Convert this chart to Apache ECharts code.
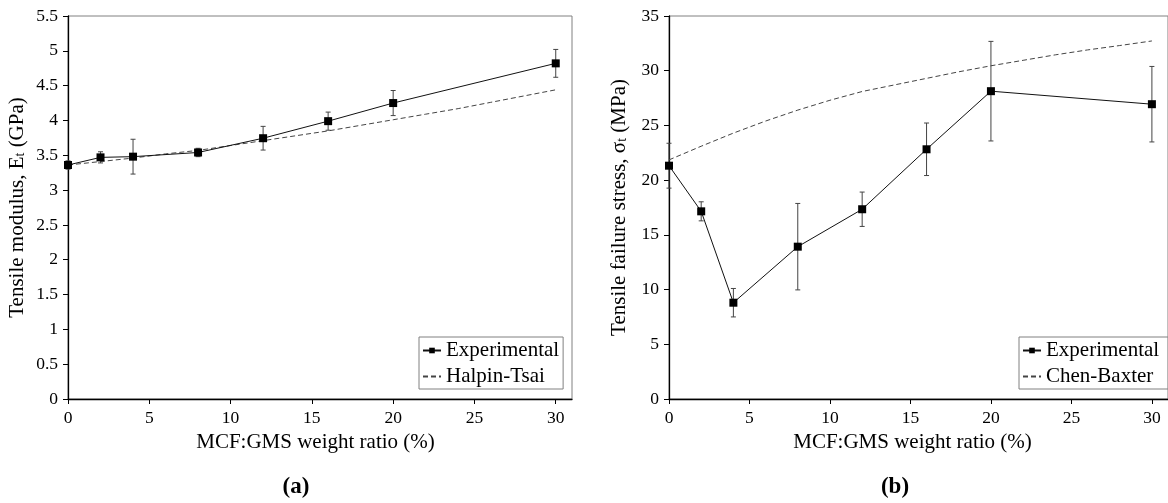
<!DOCTYPE html>
<html>
<head>
<meta charset="utf-8">
<script src="https://cdn.jsdelivr.net/npm/echarts@6/dist/echarts.min.js"></script>
<style>html,body{margin:0;padding:0;background:#fff}#c{width:1168px;height:503px}</style>
</head>
<body>
<div id="c"></div>
<script>
// ---- data ----
const xVals = [0, 2, 4, 8, 12, 16, 20, 30];
const modulus = [3.36, 3.47, 3.48, 3.54, 3.745, 3.99, 4.25, 4.82];
const modulusErr = [0.06, 0.08, 0.25, 0.06, 0.17, 0.13, 0.18, 0.20];
const htX = [0, 2, 4, 6, 8, 10, 12, 14, 16, 18, 20, 22, 24, 26, 28, 30];
const halpinTsai = [3.36, 3.41, 3.46, 3.52, 3.57, 3.64, 3.71, 3.78, 3.85, 3.93, 4.01, 4.09, 4.17, 4.26, 4.35, 4.44];
const strength = [21.32, 17.15, 8.8, 13.92, 17.34, 22.82, 28.13, 26.94];
const strengthErr = [2.05, 0.87, 1.3, 3.95, 1.57, 2.4, 4.55, 3.45];
const cbX = [0, 2, 4, 6, 8, 10, 12, 14, 16, 18, 20, 22, 24, 26, 28, 30];
const chenBaxter = [21.85, 23.1, 24.3, 25.4, 26.4, 27.3, 28.1, 28.7, 29.3, 29.9, 30.45, 30.95, 31.45, 31.9, 32.3, 32.72];
const xTicks = [0, 5, 10, 15, 20, 25, 30];

const FONT = '"Liberation Serif", "Times New Roman", serif';
const pair = (xs, ys) => xs.map((x, i) => [x, ys[i]]);
const errData = (xs, ys, es) => xs.map((x, i) => [x, ys[i] - es[i], ys[i] + es[i]]);

function errRender(params, api) {
  const x = api.value(0), lo = api.value(1), hi = api.value(2);
  const p1 = api.coord([x, hi]), p2 = api.coord([x, lo]);
  const c = 2.5;
  const st = { stroke: '#444', lineWidth: 1 };
  return { type: 'group', children: [
    { type: 'line', shape: { x1: p1[0], y1: p1[1], x2: p2[0], y2: p2[1] }, style: st },
    { type: 'line', shape: { x1: p1[0] - c, y1: p1[1], x2: p1[0] + c, y2: p1[1] }, style: st },
    { type: 'line', shape: { x1: p2[0] - c, y1: p2[1], x2: p2[0] + c, y2: p2[1] }, style: st }
  ]};
}

const axisLineStyle = { lineStyle: { color: '#000', width: 1.3 } };
function makeX(idx, shift) {
  return {
    type: 'value', gridIndex: idx, min: 0, max: 31,
    axisLine: axisLineStyle,
    axisTick: { show: true, length: 5, customValues: xTicks, lineStyle: { color: '#000' } },
    axisLabel: { customValues: xTicks, fontFamily: FONT, fontSize: 17.5, color: '#000', margin: 10 },
    splitLine: { show: false },
    name: 'MCF:GMS weight ratio (%)', nameLocation: 'middle', nameGap: 29,
    nameTextStyle: { fontFamily: FONT, fontSize: 21, color: '#000', padding: [0, shift, 0, 0] }
  };
}
const richName = {
  n: { fontFamily: FONT, fontSize: 21, color: '#000', padding: [0, 0, 5, 0] },
  sub: { fontFamily: FONT, fontSize: 14, color: '#000' }
};
function makeY(idx, max, interval, name, gap) {
  return {
    type: 'value', gridIndex: idx, min: 0, max: max, interval: interval,
    axisLine: { show: true, ...axisLineStyle },
    axisTick: { show: true, length: 5, lineStyle: { color: '#000' } },
    axisLabel: { fontFamily: FONT, fontSize: 17.5, color: '#000', margin: 10 },
    splitLine: { show: false },
    name: name, nameLocation: 'middle', nameGap: gap, nameRotate: 90,
    nameTextStyle: { rich: richName }
  };
}
function makeLegend(left, names) {
  return {
    left: left, top: 337, orient: 'vertical', itemWidth: 18, itemHeight: 7, itemGap: 5,
    padding: [3, 4, 2, 3], borderColor: '#808080', borderWidth: 1,
    textStyle: { fontFamily: FONT, fontSize: 21, color: '#000' },
    data: [names[0], { name: names[1], itemStyle: { opacity: 0 } }]
  };
}

const option = {
  backgroundColor: '#fff',
  animation: false,
  grid: [
    { left: 68, top: 16, width: 504, height: 383, show: true, borderColor: '#808080', borderWidth: 1 },
    { left: 669, top: 16, width: 503, height: 383, show: true, borderColor: '#808080', borderWidth: 1 }
  ],
  xAxis: [makeX(0, 9), makeX(1, 12)],
  yAxis: [
    makeY(0, 5.5, 0.5, '{n|Tensile modulus, E}{sub|t}{n| (GPa)}', 35),
    makeY(1, 35, 5, '{n|Tensile failure stress, σ}{sub|t}{n| (MPa)}', 34)
  ],
  legend: [
    makeLegend(419, ['Experimental', 'Halpin-Tsai']),
    makeLegend(1019, ['Experimental ', 'Chen-Baxter'])
  ],
  graphic: [
    { type: 'text', x: 296, y: 487, style: { text: '(a)', font: 'bold 23px "Liberation Serif"', fill: '#000', textAlign: 'center', textVerticalAlign: 'middle' } },
    { type: 'text', x: 895, y: 487, style: { text: '(b)', font: 'bold 23px "Liberation Serif"', fill: '#000', textAlign: 'center', textVerticalAlign: 'middle' } }
  ],
  series: [
    { name: 'Halpin-Tsai', type: 'line', xAxisIndex: 0, yAxisIndex: 0, data: pair(htX, halpinTsai),
      symbol: 'none', lineStyle: { color: '#444', width: 1, type: [5, 3] }, itemStyle: { color: '#444' }, z: 2 },
    { name: 'errA', type: 'custom', xAxisIndex: 0, yAxisIndex: 0, data: errData(xVals, modulus, modulusErr),
      renderItem: errRender, encode: { x: 0, y: [1, 2] }, z: 3 },
    { name: 'Experimental', type: 'line', xAxisIndex: 0, yAxisIndex: 0, data: pair(xVals, modulus),
      symbol: 'rect', symbolSize: 8, lineStyle: { color: '#111', width: 1 }, itemStyle: { color: '#000' }, z: 4 },
    { name: 'Chen-Baxter', type: 'line', xAxisIndex: 1, yAxisIndex: 1, data: pair(cbX, chenBaxter),
      symbol: 'none', lineStyle: { color: '#444', width: 1, type: [5, 3] }, itemStyle: { color: '#444' }, z: 2 },
    { name: 'errB', type: 'custom', xAxisIndex: 1, yAxisIndex: 1, data: errData(xVals, strength, strengthErr),
      renderItem: errRender, encode: { x: 0, y: [1, 2] }, z: 3 },
    { name: 'Experimental ', type: 'line', xAxisIndex: 1, yAxisIndex: 1, data: pair(xVals, strength),
      symbol: 'rect', symbolSize: 8, lineStyle: { color: '#111', width: 1 }, itemStyle: { color: '#000' }, z: 4 }
  ]
};
const chart = echarts.init(document.getElementById('c'), null, { renderer: 'canvas' });
chart.setOption(option);
</script>
</body>
</html>
